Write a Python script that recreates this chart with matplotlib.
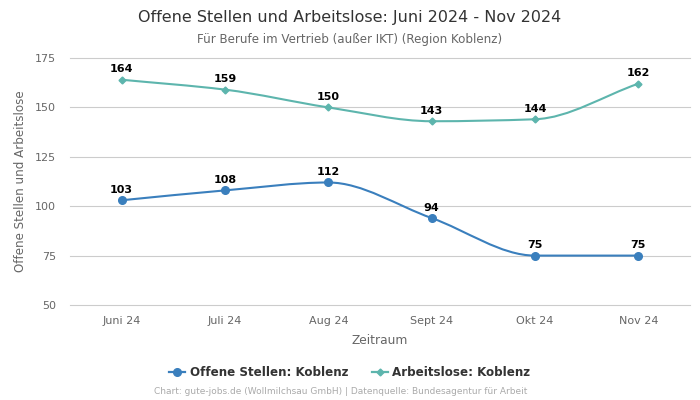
import numpy as np
import matplotlib.pyplot as plt
from matplotlib.path import Path
from matplotlib.patches import PathPatch

# Data
months = ["Juni 24", "Juli 24", "Aug 24", "Sept 24", "Okt 24", "Nov 24"]
offene_stellen = [103, 108, 112, 94, 75, 75]
arbeitslose = [164, 159, 150, 143, 144, 162]

blue = "#3a7fbd"
teal = "#5db5ad"


def smooth_path(x, y):
    """Monotone cubic curve through the points, as bezier segments"""
    x = np.asarray(x, float)
    y = np.asarray(y, float)
    h = np.diff(x)
    d = np.diff(y) / h
    m = np.zeros_like(y)
    m[0], m[-1] = d[0], d[-1]
    for i in range(1, len(y) - 1):
        if d[i - 1] * d[i] <= 0:
            m[i] = 0
        else:
            m[i] = 2 / (1 / d[i - 1] + 1 / d[i])
    verts = [(x[0], y[0])]
    codes = [Path.MOVETO]
    for i in range(len(x) - 1):
        verts += [
            (x[i] + h[i] / 3, y[i] + m[i] * h[i] / 3),
            (x[i + 1] - h[i] / 3, y[i + 1] - m[i + 1] * h[i] / 3),
            (x[i + 1], y[i + 1]),
        ]
        codes += [Path.CURVE4] * 3
    return Path(verts, codes)


fig = plt.figure(figsize=(7, 4), dpi=100)
ax = fig.add_axes([0.1, 0.2375, 0.8857, 0.6175])

xs = np.arange(len(months))
for vals, color, ms, marker, label in [
    (offene_stellen, blue, 5.5, "o", "Offene Stellen: Koblenz"),
    (arbeitslose, teal, 3.5, "D", "Arbeitslose: Koblenz"),
]:
    ax.add_patch(PathPatch(smooth_path(xs, vals), facecolor="none",
                           edgecolor=color, lw=1.5, zorder=3))
    ax.plot(xs, vals, ls="none", marker=marker, ms=ms, color=color, zorder=4)
    ax.plot([], [], color=color, marker=marker, ms=ms, lw=1.6, label=label)
    for xi, v in zip(xs, vals):
        ax.annotate(str(v), (xi, v), xytext=(0, 4), textcoords="offset points",
                    ha="center", va="bottom", fontsize=8, fontweight="bold",
                    color="black")

ax.set_xlim(-0.5, 5.5)
ax.set_ylim(50, 175)
ax.set_yticks([50, 75, 100, 125, 150, 175])
ax.set_xticks(xs)
ax.set_xticklabels(months)
ax.tick_params(axis="both", length=0, labelsize=8, labelcolor="#666666")
ax.tick_params(axis="x", pad=8)
ax.tick_params(axis="y", pad=10)
ax.grid(axis="y", color="#cccccc", lw=0.8)
for gl in ax.get_ygridlines():
    gl.set_clip_on(False)
ax.set_axisbelow(True)
for s in ax.spines.values():
    s.set_visible(False)

ax.set_xlabel("Zeitraum", fontsize=8.8, color="#666666", labelpad=6)
ax.set_ylabel("Offene Stellen und Arbeitslose", fontsize=8.6, color="#666666",
              labelpad=6)

fig.text(0.5, 0.956, "Offene Stellen und Arbeitslose: Juni 2024 - Nov 2024",
         ha="center", va="center", fontsize=11.5, color="#333333")
fig.text(0.5, 0.902, "Für Berufe im Vertrieb (außer IKT) (Region Koblenz)",
         ha="center", va="center", fontsize=8.6, color="#666666")
fig.text(0.486, 0.02, "Chart: gute-jobs.de (Wollmilchsau GmbH) | Datenquelle: Bundesagentur für Arbeit",
         ha="center", va="center", fontsize=6.5, color="#aaaaaa")

leg = fig.legend(loc="center", bbox_to_anchor=(0.5, 0.068), ncol=2, frameon=False,
                 prop={"size": 8.6, "weight": "bold"}, handlelength=1.3,
                 columnspacing=2.0, handletextpad=0.4)
for t in leg.get_texts():
    t.set_color("#333333")

fig.savefig("out.png", dpi=100)
